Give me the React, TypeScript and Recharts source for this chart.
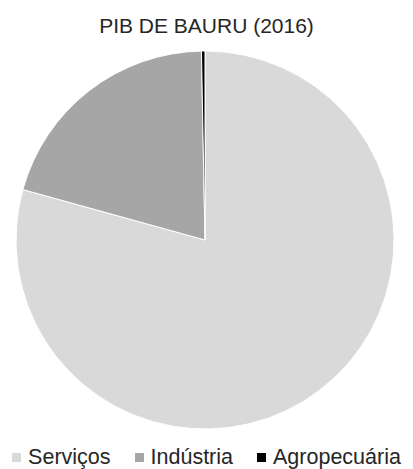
import React from 'react';
import { PieChart, Pie, Cell, Legend } from 'recharts';

const categories = ['Serviços', 'Indústria', 'Agropecuária'];
const shares = [79.3, 20.4, 0.3];
const colors = ['#d9d9d9', '#a6a6a6', '#000000'];
const title = 'PIB DE BAURU (2016)';

const data = categories.map((name, i) => ({ name, value: shares[i] }));

const FONT = '"Liberation Sans", Arial, sans-serif';

const renderLegend = () => (
  <div
    style={{
      display: 'flex',
      justifyContent: 'center',
      alignItems: 'center',
      gap: 24,
      fontFamily: FONT,
      fontSize: 21.5,
      color: '#262626',
      lineHeight: '22px',
    }}
  >
    {categories.map((c, i) => (
      <div key={c} style={{ display: 'flex', alignItems: 'center' }}>
        <span
          style={{
            display: 'inline-block',
            width: 9,
            height: 9,
            background: colors[i],
            marginRight: 7,
            marginTop: 1,
          }}
        />
        <span>{c}</span>
      </div>
    ))}
  </div>
);

export default function App() {
  return (
    <div
      style={{
        position: 'fixed',
        left: 0,
        top: 0,
        width: 413,
        height: 469,
        background: '#fff',
        overflow: 'hidden',
      }}
    >
      <div
        style={{
          position: 'absolute',
          left: 0,
          top: 15,
          width: 413,
          textAlign: 'center',
          fontFamily: FONT,
          fontSize: 21,
          lineHeight: '21px',
          color: '#262626',
        }}
      >
        {title}
      </div>
      <PieChart
        width={413}
        height={469}
        margin={{ top: 0, right: 0, bottom: 0, left: 0 }}
        style={{ position: 'absolute', left: 0, top: 0 }}
      >
        <Pie
          data={data}
          dataKey="value"
          nameKey="name"
          cx={205}
          cy={240}
          outerRadius={189}
          startAngle={90}
          endAngle={-270}
          stroke="#ffffff"
          strokeWidth={1}
          isAnimationActive={false}
        >
          {data.map((d, i) => (
            <Cell key={d.name} fill={colors[i]} />
          ))}
        </Pie>
        <Legend
          content={renderLegend}
          verticalAlign="bottom"
          wrapperStyle={{ left: 0, width: 413, bottom: 1 }}
        />
      </PieChart>
    </div>
  );
}
